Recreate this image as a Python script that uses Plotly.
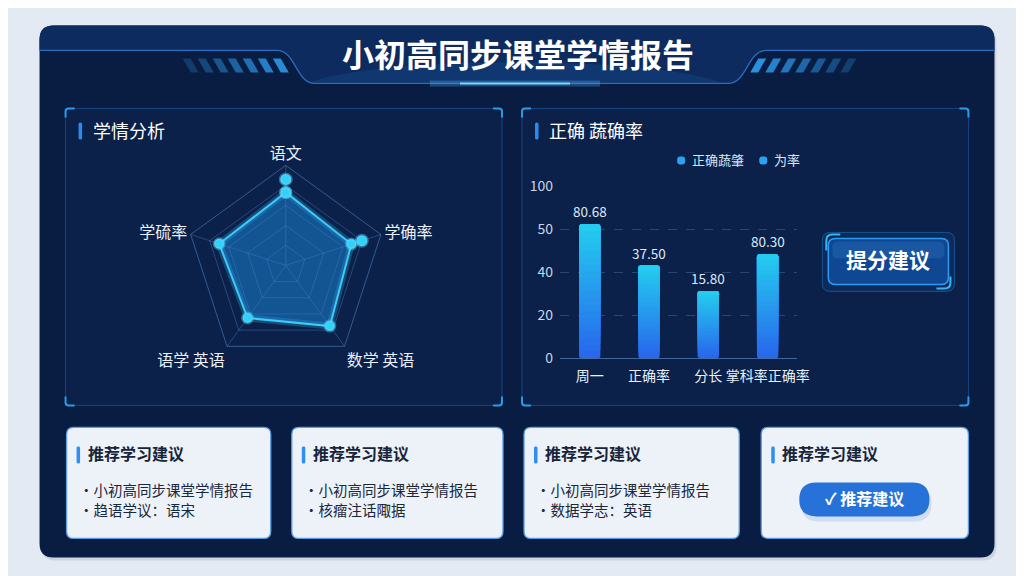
import plotly.graph_objects as go

# ---------------- data ----------------
radar_axes = ["语文", "学确率", "数学 英语", "语学 英语", "学硫率"]
radar_values = [0.73, 0.69, 0.75, 0.65, 0.70]
radar_peak_axes = ["语文", "学确率"]
radar_peak_values = [0.86, 0.80]

bar_categories = ["周一", "正确率", "分长", "掌科率正确率"]
bar_heights = [78, 54, 39, 60.5]
bar_labels = ["80.68", "37.50", "15.80", "80.30"]
y_tick_values = [0, 25, 50, 75, 100]
y_tick_labels = ["0", "20", "40", "50", "100"]
legend_names = ["正确蔬肇", "为率"]

title_text = "小初高同步课堂学情报告"
radar_title = "学情分析"
bar_title = "正确 蔬确率"
button_text = "提分建议"
card_title = "推荐学习建议"
card_lines = [
    ["小初高同步课堂学情报告", "趋语学议：语宋"],
    ["小初高同步课堂学情报告", "核瘤注话陬据"],
    ["小初高同步课堂学情报告", "数据学志：英语"],
]
card_button = "✓ 推荐建议"

# ---------------- helpers ----------------
W, H = 1024, 576
# observed placement of the plotting paper inside the captured page
OX, OY, PW, PH = 8.5, 18.6, 1011.0, 556.0
FONT = "Noto Sans CJK SC"


def X(x):
    return (x - OX) / PW


def Y(y):
    return 1 - (y - OY) / PH


def P(x, y):
    return f"{X(x):.5f},{Y(y):.5f}"


def rrect(x0, y0, x1, y1, r):
    return (f"M {P(x0 + r, y0)} L {P(x1 - r, y0)} Q {P(x1, y0)} {P(x1, y0 + r)} "
            f"L {P(x1, y1 - r)} Q {P(x1, y1)} {P(x1 - r, y1)} L {P(x0 + r, y1)} "
            f"Q {P(x0, y1)} {P(x0, y1 - r)} L {P(x0, y0 + r)} Q {P(x0, y0)} {P(x0 + r, y0)} Z")


shapes = []
annotations = []


def add_path(path, fill=None, line_color=None, line_width=0, layer="below"):
    shapes.append(dict(type="path", xref="paper", yref="paper", path=path,
                       fillcolor=fill if fill else "rgba(0,0,0,0)",
                       line=dict(color=line_color if line_color else "rgba(0,0,0,0)", width=line_width),
                       layer=layer))


def add_text(x, y, s, size, color, xanchor="center", bold=False):
    annotations.append(dict(xref="paper", yref="paper", x=X(x), y=Y(y - 0.1 * size),
                            text=(f"<b>{s}</b>" if bold else s),
                            showarrow=False, xanchor=xanchor, yanchor="middle",
                            font=dict(family=FONT, size=size, color=color)))


def corners(x0, y0, x1, y1, L=9, color="#2a9be6", width=2):
    r = 3
    add_path(f"M {P(x0, y0 + L)} L {P(x0, y0 + r)} Q {P(x0, y0)} {P(x0 + r, y0)} L {P(x0 + L, y0)}", line_color=color, line_width=width)
    add_path(f"M {P(x1 - L, y0)} L {P(x1 - r, y0)} Q {P(x1, y0)} {P(x1, y0 + r)} L {P(x1, y0 + L)}", line_color=color, line_width=width)
    add_path(f"M {P(x0, y1 - L)} L {P(x0, y1 - r)} Q {P(x0, y1)} {P(x0 + r, y1)} L {P(x0 + L, y1)}", line_color=color, line_width=width)
    add_path(f"M {P(x1 - L, y1)} L {P(x1 - r, y1)} Q {P(x1, y1)} {P(x1, y1 - r)} L {P(x1, y1 - L)}", line_color=color, line_width=width)


# ---------------- page background ----------------
add_path(f"M {P(-20, -30)} L {P(1050, -30)} L {P(1050, 600)} L {P(-20, 600)} Z", fill="#e4eaf3")
add_path(rrect(42, 28, 996, 560, 14), fill="rgba(40,60,100,0.12)")
add_path(rrect(40, 25, 994, 557, 14), fill="#091c41")
# header band
band = (f"M {P(40, 50)} L {P(277, 50)} C {P(296, 50)} {P(296, 83)} {P(315, 83)} L {P(728, 83)} "
        f"C {P(747, 83)} {P(747, 50)} {P(766, 50)} L {P(994, 50)} L {P(994, 39)} Q {P(994, 25)} {P(980, 25)} "
        f"L {P(54, 25)} Q {P(40, 25)} {P(40, 39)} Z")
add_path(band, fill="#0d2b5f")
add_path(f"M {P(310, 82)} C {P(380, 55)} {P(650, 55)} {P(720, 82)} Z", fill="rgba(40,110,200,0.18)")
add_path(f"M {P(40, 50)} L {P(277, 50)} C {P(296, 50)} {P(296, 83)} {P(315, 83)} L {P(728, 83)} "
         f"C {P(747, 83)} {P(747, 50)} {P(766, 50)} L {P(994, 50)}", line_color="#2a6cc0", line_width=1.3)
add_path(f"M {P(430, 83)} L {P(600, 83)}", line_color="rgba(80,180,255,0.30)", line_width=6)
add_path(f"M {P(460, 83)} L {P(570, 83)}", line_color="#7ad6ff", line_width=2)
# stripes
for i in range(7):
    op = 0.25 + 0.11 * i
    x0 = 183 + i * 15
    add_path(f"M {P(x0, 58)} L {P(x0 + 8, 58)} L {P(x0 + 16, 72)} L {P(x0 + 8, 72)} Z", fill=f"rgba(45,150,230,{op:.2f})")
for i in range(7):
    op = 0.95 - 0.11 * i
    x0 = 750 + i * 15
    add_path(f"M {P(x0 + 8, 58)} L {P(x0 + 16, 58)} L {P(x0 + 8, 72)} L {P(x0, 72)} Z", fill=f"rgba(45,150,230,{op:.2f})")

add_text(518, 56, title_text, 32, "#ffffff", bold=True)

# ---------------- panels ----------------
for (x0, y0, x1, y1) in [(66, 108, 502, 405), (522, 108, 968, 405)]:
    add_path(rrect(x0, y0, x1, y1, 4), fill="#0b2149", line_color="rgba(40,100,180,0.55)", line_width=1)
    corners(x0, y0, x1, y1)

add_path(rrect(79, 122, 82.5, 139, 1.5), fill="#2b8cf0")
add_text(91, 131, radar_title, 18, "#ffffff", xanchor="left")
add_path(rrect(535, 122, 538.5, 139, 1.5), fill="#2b8cf0")
add_text(547, 131, bar_title, 18, "#ffffff", xanchor="left")

# legend (manual)
legend_x = [681, 763]
for lx, name in zip(legend_x, legend_names):
    add_path(rrect(lx - 4, 156, lx + 4, 164, 3), fill="#2aa2f2")
    add_text(lx + 9, 160, name, 13, "#d8e4f4", xanchor="left")

# button 提分建议
add_path(rrect(822, 232, 954, 291, 8), fill="rgba(20,90,170,0.18)", line_color="rgba(40,140,220,0.45)", line_width=1)
add_path(rrect(828, 238, 948, 284, 7), fill="#0f4793", line_color="#2d9cf0", line_width=1.5)
add_path(rrect(832, 241, 944, 258, 6), fill="rgba(80,160,240,0.18)")
add_path(f"M {P(826, 250)} L {P(826, 240)} Q {P(826, 234)} {P(832, 234)} L {P(840, 234)}", line_color="#35b6f5", line_width=2)
add_path(f"M {P(950, 276)} L {P(950, 282)} Q {P(950, 288)} {P(944, 288)} L {P(936, 288)}", line_color="#35b6f5", line_width=2)
add_text(888, 261, button_text, 21, "#ffffff", bold=True)

# ---------------- cards ----------------
cards = [(67, 427, 271, 538), (292, 427, 503, 538), (524, 427, 739, 538), (761, 427, 968, 538)]
for i, (x0, y0, x1, y1) in enumerate(cards):
    add_path(rrect(x0, y0, x1, y1, 7), fill="#edf2f9", line_color="#5d9de0", line_width=1.3)
    add_path(rrect(x0 + 10, 446, x0 + 13.5, 463, 1.5), fill="#2f8ff0")
    add_text(x0 + 19, 454, card_title, 16, "#18243a", xanchor="left", bold=True)
    if i < 3:
        for j, line in enumerate(card_lines[i]):
            add_text(x0 + 10, 491 + j * 20, "•" + line, 14.5, "#1b273b", xanchor="left")

add_path(rrect(801, 486, 931, 521, 17), fill="rgba(40,110,210,0.15)")
add_path(rrect(799, 482, 929, 516, 17), fill="#2672d8")
add_text(864, 499, card_button, 16, "#ffffff", bold=True)

# ---------------- traces ----------------
fig = go.Figure()

theta_closed = radar_axes + [radar_axes[0]]
r_closed = radar_values + [radar_values[0]]
fig.add_trace(go.Scatterpolar(r=r_closed, theta=theta_closed, mode="lines",
                              line=dict(color="rgba(60,200,250,0.25)", width=7),
                              hoverinfo="skip", showlegend=False))
fig.add_trace(go.Scatterpolar(r=r_closed, theta=theta_closed, mode="lines+markers", fill="toself",
                              fillcolor="rgba(30,140,225,0.48)",
                              line=dict(color="#3ccaf6", width=2),
                              marker=dict(size=10, color="#33d0f8", line=dict(color="rgba(100,220,255,0.4)", width=3)),
                              showlegend=False))
fig.add_trace(go.Scatterpolar(r=radar_peak_values, theta=radar_peak_axes, mode="markers",
                              marker=dict(size=11, color="#33d0f8", line=dict(color="rgba(100,220,255,0.4)", width=3)),
                              showlegend=False))

# bars: gradient built from overlapping layers (each layer runs from its start to the bar top)
N = 20
c_bot = (40, 104, 236)
c_top = (36, 204, 240)
for k in range(N):
    t = k / (N - 1)
    col = tuple(int(c_bot[i] + (c_top[i] - c_bot[i]) * t) for i in range(3))
    fig.add_trace(go.Bar(x=bar_categories, y=[v * (1 - k / N) for v in bar_heights],
                         base=[v * k / N for v in bar_heights],
                         width=0.36, marker=dict(color=f"rgb{col}", line=dict(width=0), cornerradius=3),
                         hoverinfo="skip", showlegend=False, xaxis="x", yaxis="y"))

for cat, v, lab in zip(bar_categories, bar_heights, bar_labels):
    annotations.append(dict(xref="x", yref="y", x=cat, y=v, text=lab, showarrow=False, yshift=13,
                            font=dict(family=FONT, size=13.5, color="#dfe8f5")))

grid_c = "rgba(90,150,220,0.35)"
fig.update_layout(
    width=W, height=H, autosize=False,
    margin=dict(l=0, r=0, t=0, b=0, pad=0),
    paper_bgcolor="#e4eaf3", plot_bgcolor="rgba(0,0,0,0)",
    font=dict(family=FONT),
    showlegend=False,
    barmode="overlay",
    polar=dict(
        domain=dict(x=[X(186), X(386)], y=[Y(365), Y(165)]),
        bgcolor="rgba(0,0,0,0)",
        gridshape="linear",
        radialaxis=dict(range=[0, 1], tickvals=[0.2, 0.4, 0.6, 0.8, 1.0], showticklabels=False,
                        gridcolor=grid_c, showline=False, ticks=""),
        angularaxis=dict(direction="clockwise", rotation=90, gridcolor=grid_c, linecolor="rgba(90,150,220,0.5)",
                         showline=True, ticks="", tickfont=dict(family=FONT, size=16, color="#e8f0fa")),
    ),
    xaxis=dict(domain=[X(560), X(797)], range=[-0.5, 3.5], showgrid=False, showline=True,
               linecolor="rgba(100,150,210,0.6)", ticks="", ticklabelstandoff=5,
               tickfont=dict(family=FONT, size=14, color="#e8f0fa"), fixedrange=True),
    yaxis=dict(domain=[Y(358), Y(186)], range=[0, 100], tickvals=y_tick_values, ticktext=y_tick_labels,
               showgrid=True, gridcolor="rgba(110,160,220,0.3)", griddash="dash", zeroline=False,
               ticks="", ticklabelstandoff=6, tickfont=dict(family=FONT, size=14, color="#c9d6e8"),
               fixedrange=True),
    shapes=shapes,
    annotations=annotations,
)

fig.write_html("out.html")
